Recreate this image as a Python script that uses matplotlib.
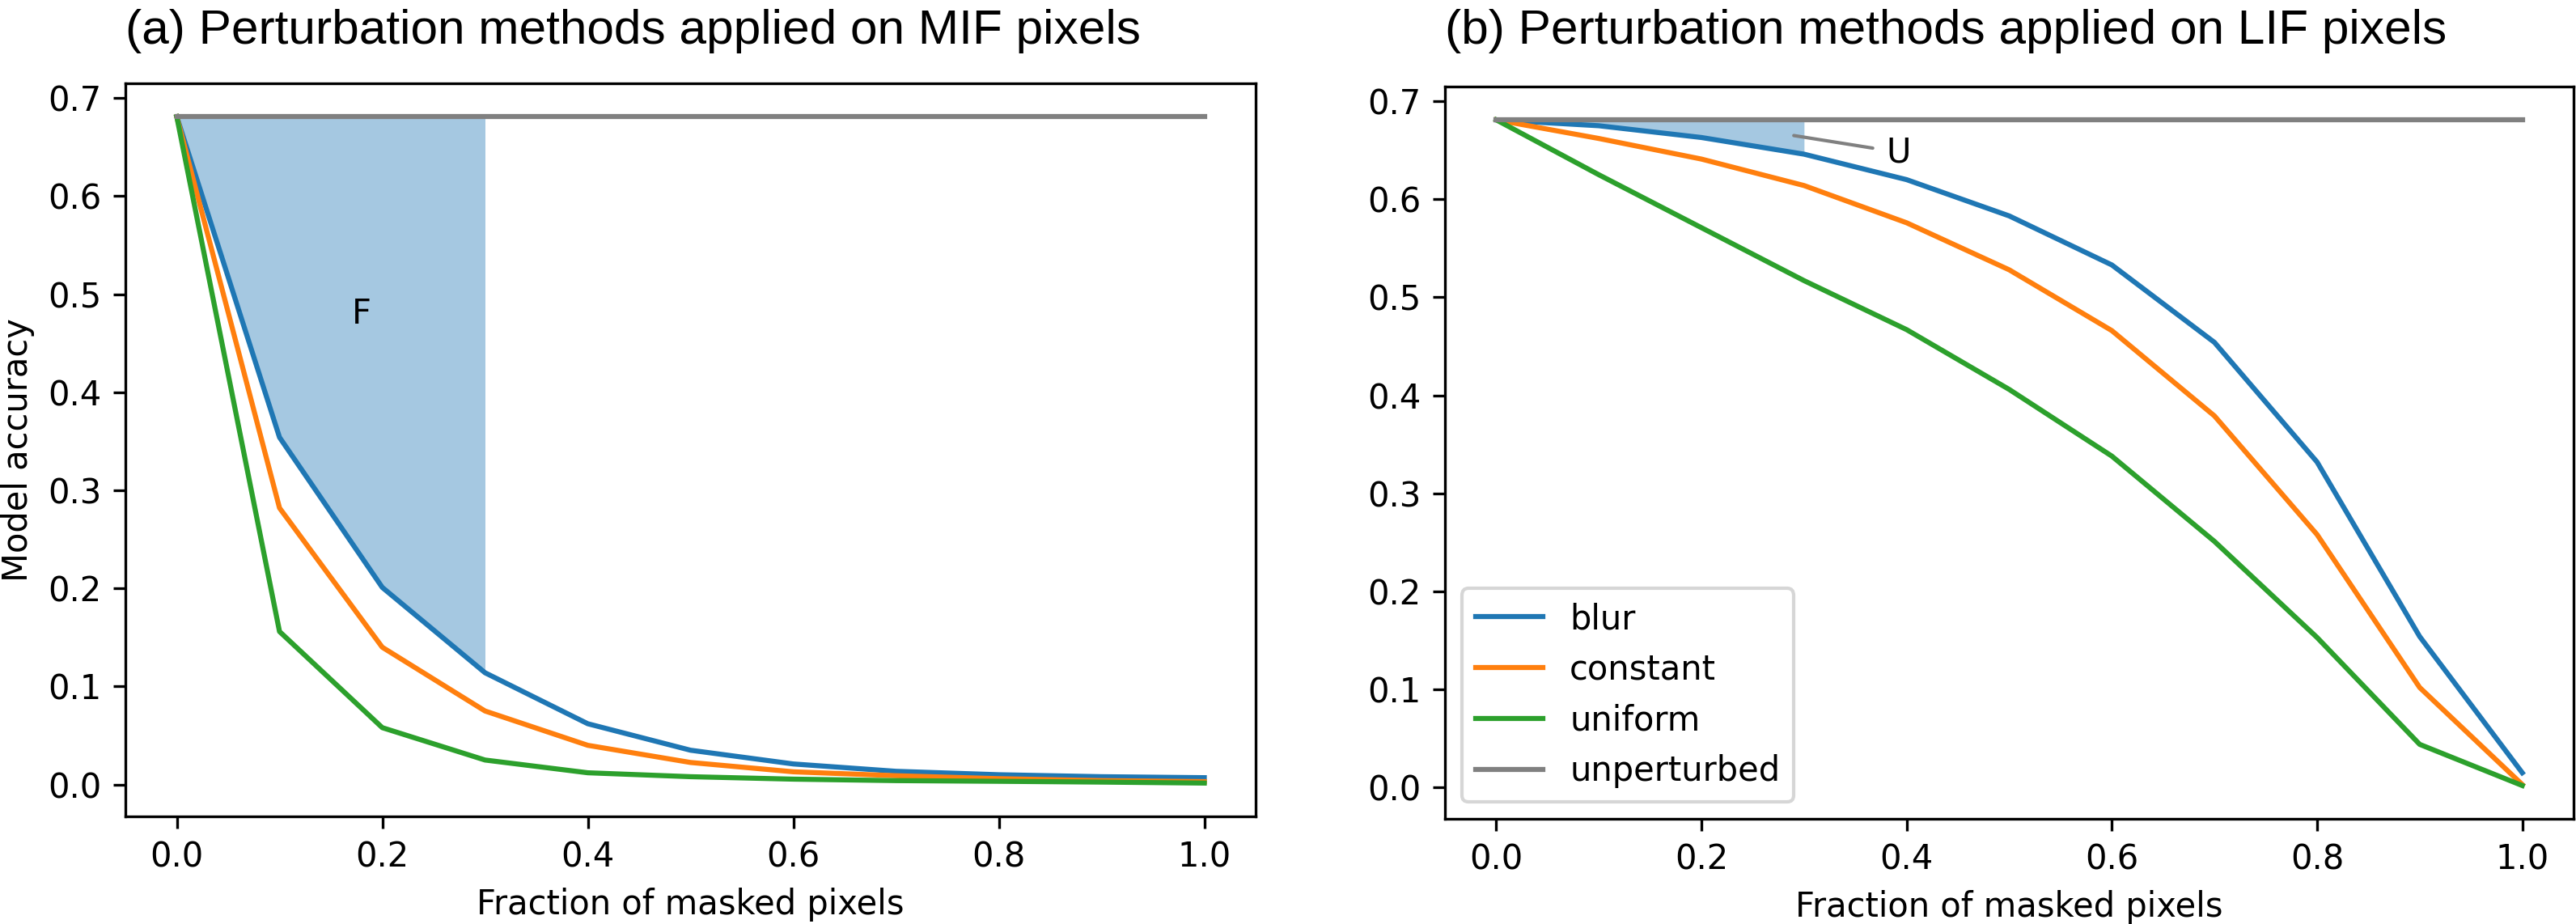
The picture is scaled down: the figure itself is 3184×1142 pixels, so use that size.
"""
Model accuracy vs fraction of masked pixels for three perturbation methods,
(a) masking most important features, (b) masking least important features
"""
import numpy as np
import matplotlib
matplotlib.use("Agg")
import matplotlib.pyplot as plt

fractions = np.round(np.arange(0, 1.01, 0.1), 1)
unperturbed = 0.681

# (a) MIF pixels
blur_mif = [0.681, 0.354, 0.201, 0.114, 0.062, 0.035, 0.021, 0.0135, 0.010, 0.008, 0.007]
constant_mif = [0.681, 0.282, 0.140, 0.075, 0.040, 0.0225, 0.013, 0.009, 0.006, 0.004, 0.003]
uniform_mif = [0.681, 0.156, 0.058, 0.025, 0.012, 0.008, 0.0055, 0.004, 0.0033, 0.0025, 0.0015]

# (b) LIF pixels
blur_lif = [0.681, 0.675, 0.663, 0.646, 0.620, 0.583, 0.533, 0.454, 0.332, 0.154, 0.015]
constant_lif = [0.681, 0.662, 0.641, 0.614, 0.576, 0.528, 0.466, 0.379, 0.258, 0.102, 0.003]
uniform_lif = [0.681, 0.625, 0.571, 0.517, 0.467, 0.406, 0.338, 0.251, 0.153, 0.044, 0.002]

methods = ["blur", "constant", "uniform"]
titles = ["(a) Perturbation methods applied on MIF pixels",
          "(b) Perturbation methods applied on LIF pixels"]
area_labels = ["F", "U"]
area_end = 0.3


def plot_panel(ax, curves, draw_legend=False):
    for vals, label in zip(curves, methods):
        ax.plot(fractions, vals, label=label)
    ax.plot([fractions[0], fractions[-1]], [unperturbed, unperturbed],
            color="gray", label="unperturbed")
    mask = fractions <= area_end + 1e-9
    ax.fill_between(fractions[mask], np.array(curves[0])[mask], unperturbed,
                    color="C0", alpha=0.4, linewidth=0)
    ax.set_xlabel("Fraction of masked pixels")
    if draw_legend:
        ax.legend(loc="lower left")


fig = plt.figure(figsize=(3184 / 300, 1142 / 300), dpi=300)
ax1 = fig.add_axes([155 / 3184, 1 - 1009 / 1142, 1397 / 3184, 906 / 1142])
ax2 = fig.add_axes([1786 / 3184, 1 - 1012 / 1142, 1395 / 3184, 905 / 1142])

plot_panel(ax1, [blur_mif, constant_mif, uniform_mif])
ax1.set_ylabel("Model accuracy")
ax1.text(0.18, 0.48, area_labels[0], ha="center", va="center")

plot_panel(ax2, [blur_lif, constant_lif, uniform_lif], draw_legend=True)
ax2.annotate(area_labels[1], xy=(0.29, 0.665), xytext=(0.392, 0.648),
             ha="center", va="center",
             arrowprops=dict(arrowstyle="-", color="gray", lw=1, shrinkA=2, shrinkB=0))

for ax in (ax1, ax2):
    ax.set_yticks(np.arange(0, 0.71, 0.1))

# titles sit left-aligned with the axes
fig.text(155 / 3184, 1 - 54 / 1142, titles[0], ha="left", va="baseline",
         fontsize=14.5, family="Liberation Sans")
fig.text(1786 / 3184, 1 - 54 / 1142, titles[1], ha="left", va="baseline",
         fontsize=14.5, family="Liberation Sans")

fig.savefig("out.png", dpi=300)
